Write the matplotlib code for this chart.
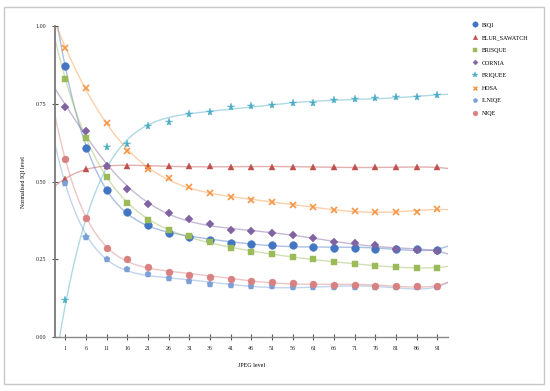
import numpy as np
import matplotlib
matplotlib.use("Agg")
import matplotlib.pyplot as plt
from matplotlib.lines import Line2D
from matplotlib.patches import Rectangle

# =====================================================
# DATA
# =====================================================

jpeg_levels = [1, 6, 11, 16, 21, 26, 31, 36, 41, 46,
               51, 56, 61, 66, 71, 76, 81, 86, 91]

biqi = [0.871, 0.608, 0.473, 0.403, 0.362, 0.336, 0.323, 0.311, 0.304, 0.301,
        0.298, 0.295, 0.291, 0.288, 0.286, 0.284, 0.284, 0.283, 0.281]
blur_sawatch = [0.509, 0.542, 0.550, 0.551, 0.550, 0.550, 0.549, 0.549, 0.548, 0.548,
                0.548, 0.547, 0.547, 0.547, 0.546, 0.546, 0.546, 0.546, 0.546]
brisque = [0.830, 0.641, 0.516, 0.433, 0.378, 0.344, 0.325, 0.306, 0.288, 0.274,
           0.267, 0.259, 0.251, 0.243, 0.236, 0.229, 0.225, 0.224, 0.224]
cornia = [0.741, 0.663, 0.551, 0.477, 0.429, 0.399, 0.381, 0.364, 0.344, 0.340,
          0.334, 0.329, 0.318, 0.307, 0.302, 0.295, 0.285, 0.281, 0.278]
friquee = [0.120, 0.322, 0.610, 0.622, 0.679, 0.692, 0.718, 0.725, 0.741, 0.744,
           0.747, 0.753, 0.753, 0.761, 0.764, 0.768, 0.771, 0.773, 0.779]
hosa = [0.929, 0.801, 0.688, 0.597, 0.541, 0.511, 0.484, 0.463, 0.451, 0.442,
        0.434, 0.425, 0.418, 0.409, 0.407, 0.401, 0.404, 0.404, 0.412]
ilniqe = [0.497, 0.322, 0.250, 0.220, 0.203, 0.190, 0.181, 0.172, 0.168, 0.165,
          0.164, 0.163, 0.162, 0.162, 0.161, 0.161, 0.160, 0.160, 0.160]
niqe = [0.574, 0.383, 0.286, 0.251, 0.227, 0.211, 0.201, 0.195, 0.187, 0.182,
        0.178, 0.174, 0.171, 0.169, 0.167, 0.166, 0.165, 0.165, 0.165]

names = ["BIQI", "BLUR_SAWATCH", "BRISQUE", "CORNIA",
         "FRIQUEE", "HOSA", "ILNIQE", "NIQE"]
series = [biqi, blur_sawatch, brisque, cornia,
          friquee, hosa, ilniqe, niqe]

# =====================================================
# STYLE
# =====================================================

colors = ["#4275c2", "#c0504d", "#9bbb59", "#8064a2",
          "#4bacc6", "#f79646", "#7ba0d8", "#d98080"]
markers = ["o", "^", "s", "D", "*", "x", "p", "o"]
msizes = [5.6, 4.6, 4.0, 3.6, 5.8, 4.0, 4.8, 5.0]

plt.rcParams["font.family"] = ["Liberation Serif", "DejaVu Serif"]
FS = 4.3

fig = plt.figure(figsize=(5.5, 3.91), dpi=100)
fig.patches.append(Rectangle(
    (4 / 550, 7 / 391), 540 / 550, 377 / 391,
    transform=fig.transFigure, fill=False,
    edgecolor="#c8c8c8", linewidth=1.0
))

ax = fig.add_axes([55 / 550, 1 - 337.3 / 391, 392.7 / 550, 311.3 / 391])

idx = np.arange(len(jpeg_levels))
xs = np.linspace(-0.5, len(jpeg_levels) - 0.5, 300)

# =====================================================
# TREND LINES + MARKERS
# =====================================================

for i, (name, vals) in enumerate(zip(names, series)):

    fit = np.polynomial.Polynomial.fit(idx, vals, 6)

    ax.plot(
        xs, fit(xs),
        color=colors[i],
        alpha=0.45,
        linewidth=1.0,
        zorder=1
    )

    ax.plot(
        idx, vals,
        linestyle="none",
        marker=markers[i],
        markersize=msizes[i],
        color=colors[i],
        markeredgewidth=1.2 if markers[i] == "x" else 0.3,
        zorder=3 + i
    )

# =====================================================
# AXES
# =====================================================

ax.set_xlim(-0.5, len(jpeg_levels) - 0.5)
ax.set_ylim(0, 1.0)

ax.set_xticks(idx)
ax.set_xticklabels([str(v) for v in jpeg_levels])
ax.set_yticks([0, 0.25, 0.5, 0.75, 1.0])
ax.set_yticklabels(["0.00", "0.25", "0.50", "0.75", "1.00"])

for side in ["top", "right"]:
    ax.spines[side].set_visible(False)
ax.spines["left"].set_color("#7a7a7a")
ax.spines["left"].set_linewidth(1.3)
ax.spines["bottom"].set_color("#8a8a8a")
ax.spines["bottom"].set_linewidth(1.0)

ax.tick_params(
    direction="inout", length=4.5, width=0.8,
    color="#555555", labelsize=FS, labelcolor="#222222", pad=4
)

ax.set_xlabel("JPEG level", fontsize=FS, labelpad=9)
ax.set_ylabel("Normalised IQI level", fontsize=FS, labelpad=7)

# =====================================================
# LEGEND
# =====================================================

handles = [
    Line2D([], [], linestyle="none", marker=markers[i],
           markersize=msizes[i] * 0.7, color=colors[i],
           markeredgewidth=1.0 if markers[i] == "x" else 0.3)
    for i in range(len(names))
]

fig.legend(
    handles, names,
    loc="upper left",
    bbox_to_anchor=(470 / 550, 1 - 20 / 391),
    frameon=False,
    fontsize=FS,
    handlelength=1.0,
    handletextpad=0.6,
    labelspacing=1.25,
    borderaxespad=0
)

fig.savefig("out.png", dpi=100)
